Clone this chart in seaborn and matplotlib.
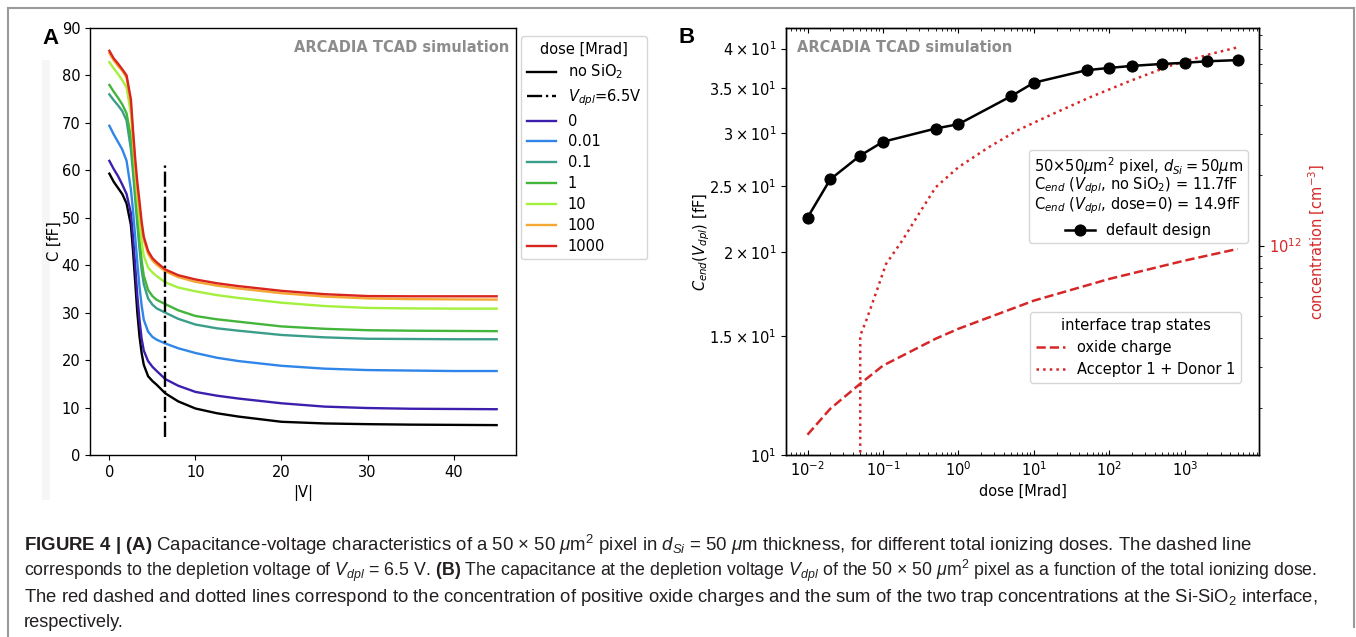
import numpy as np
import pandas as pd
import matplotlib
matplotlib.use("Agg")
import matplotlib.pyplot as plt
import seaborn as sns
from matplotlib.lines import Line2D
from matplotlib.patches import Rectangle
from matplotlib.ticker import FixedLocator, FixedFormatter, NullLocator, NullFormatter

# ---------------- data: panel A (C-V curves) ----------------
voltage = [0, 0.5, 1, 1.5, 2, 2.5, 2.75, 3, 3.25, 3.5, 3.75, 4, 4.5, 5, 5.5,
           6.5, 8, 10, 12.5, 15, 20, 25, 30, 35, 40, 45]
c_no_sio2 = [59.3, 57.6, 56.3, 55.0, 53.0, 48.5, 43.0, 36.5, 30.0, 25.0, 21.5, 19.0, 16.6, 15.6, 14.8,
             13.0, 11.3, 9.8, 8.8, 8.1, 7.0, 6.65, 6.5, 6.4, 6.35, 6.3]
c_dose_0 = [62.0, 60.3, 58.8, 57.0, 55.0, 51.0, 46.0, 40.0, 33.5, 28.5, 24.5, 22.0, 19.8, 18.6, 17.7,
            16.0, 14.6, 13.3, 12.5, 11.9, 10.9, 10.2, 9.9, 9.75, 9.7, 9.65]
c_dose_001 = [69.4, 67.6, 66.0, 64.4, 62.0, 56.0, 51.5, 46.0, 40.5, 35.5, 31.5, 28.5, 26.0, 24.9, 24.3,
              23.5, 22.5, 21.5, 20.5, 19.8, 18.8, 18.2, 17.9, 17.8, 17.7, 17.7]
c_dose_01 = [76.0, 74.8, 73.7, 72.5, 70.5, 64.5, 59.5, 54.0, 48.5, 43.5, 39.0, 36.0, 33.0, 31.7, 30.9,
             30.0, 28.7, 27.5, 26.7, 26.2, 25.3, 24.8, 24.5, 24.45, 24.4, 24.4]
c_dose_1 = [78.0, 76.6, 75.3, 73.9, 72.0, 67.0, 62.0, 56.0, 50.5, 45.5, 41.0, 37.8, 34.8, 33.5, 32.7,
            31.8, 30.5, 29.3, 28.6, 28.1, 27.1, 26.6, 26.3, 26.2, 26.15, 26.1]
c_dose_10 = [82.8, 81.5, 80.3, 79.0, 77.5, 72.0, 66.0, 60.0, 54.5, 49.5, 45.0, 42.0, 39.5, 38.5, 37.7,
             36.4, 35.3, 34.5, 33.7, 33.1, 32.1, 31.4, 31.0, 30.9, 30.85, 30.85]
c_dose_100 = [84.7, 83.2, 82.0, 81.0, 79.5, 74.0, 67.0, 61.0, 56.0, 52.0, 48.3, 45.3, 42.4, 41.0, 40.1,
              38.7, 37.5, 36.5, 35.7, 35.1, 34.1, 33.4, 33.0, 32.85, 32.8, 32.75]
c_dose_1000 = [85.2, 83.6, 82.5, 81.3, 80.0, 75.0, 68.5, 62.5, 57.5, 53.5, 49.2, 46.0, 43.0, 41.5, 40.6,
               39.1, 37.9, 37.0, 36.2, 35.6, 34.6, 33.9, 33.5, 33.45, 33.45, 33.45]
series_labels = ["no SiO$_2$", "0", "0.01", "0.1", "1", "10", "100", "1000"]
series_values = [c_no_sio2, c_dose_0, c_dose_001, c_dose_01, c_dose_1, c_dose_10, c_dose_100, c_dose_1000]
series_colors = ["#000000", "#3d1fae", "#2f86e8", "#3a9e8a", "#43b53a", "#a3f03e", "#f5a733", "#d8261e"]
vdpl_label = "$V_{dpl}$=6.5V"
vdpl_v = [6.5, 6.5]
vdpl_c = [3.8, 61.8]

# ---------------- data: panel B ----------------
dose_points = [0.01, 0.02, 0.05, 0.1, 0.5, 1, 5, 10, 50, 100, 200, 500, 1000, 2000, 5000]
c_end = [22.47, 25.6, 27.77, 29.1, 30.45, 30.9, 34.0, 35.6, 37.15, 37.44, 37.7, 37.95, 38.1, 38.3, 38.45]
oxide_dose = [0.01, 0.02, 0.05, 0.1, 0.2, 0.5, 1, 10, 100, 1000, 5000]
oxide_conc = [1.54e11, 1.99e11, 2.55e11, 3.05e11, 3.42e11, 3.98e11, 4.39e11, 5.8e11, 7.19e11, 8.62e11, 9.67e11]
trap_dose = [0.05, 0.05, 0.06, 0.08, 0.11, 0.18, 0.3, 0.5, 1, 2.5, 6, 18, 55, 190, 650, 2200, 5000]
trap_conc = [1e10, 4.11e11, 4.76e11, 6.2e11, 8.34e11, 1.05e12, 1.37e12, 1.78e12, 2.17e12, 2.64e12,
             3.12e12, 3.68e12, 4.33e12, 5.1e12, 5.93e12, 6.65e12, 7.1e12]
b_ytick_vals = [10, 15, 20, 25, 30, 35, 40]
b_ytick_labels = [r"$\mathdefault{10^{1}}$", r"$\mathdefault{1.5\times10^{1}}$", r"$\mathdefault{2\times10^{1}}$",
                  r"$\mathdefault{2.5\times10^{1}}$", r"$\mathdefault{3\times10^{1}}$",
                  r"$\mathdefault{3.5\times10^{1}}$", r"$\mathdefault{4\times10^{1}}$"]
info_title = ("50×50$\\mu$m$^2$ pixel, $d_{Si}=50\\mu$m\n"
              "C$_{end}$ ($V_{dpl}$, no SiO$_2$) = 11.7fF\n"
              "C$_{end}$ ($V_{dpl}$, dose=0) = 14.9fF")

caption_lines = [
    r"$\mathbf{FIGURE\ 4\ |\ (A)}$ Capacitance-voltage characteristics of a 50 × 50 $\mu$m$^2$ pixel in $d_{Si}$ = 50 $\mu$m thickness, for different total ionizing doses. The dashed line",
    r"corresponds to the depletion voltage of $V_{dpl}$ = 6.5 V. $\mathbf{(B)}$ The capacitance at the depletion voltage $V_{dpl}$ of the 50 × 50 $\mu$m$^2$ pixel as a function of the total ionizing dose.",
    r"The red dashed and dotted lines correspond to the concentration of positive oxide charges and the sum of the two trap concentrations at the Si-SiO$_2$ interface,",
    r"respectively.",
]

# ---------------- style ----------------
plt.rcParams["font.family"] = ["DejaVu Sans"]
plt.rcParams["font.size"] = 10.5
plt.rcParams["mathtext.rm"] = "Liberation Sans"
plt.rcParams["mathtext.it"] = "Liberation Sans:italic"
plt.rcParams["mathtext.bf"] = "Liberation Sans:bold"
plt.rcParams["axes.linewidth"] = 1.0

RED = "#d62728"
GREY = "#8c8c8c"
W, H = 1356, 637
fig = plt.figure(figsize=(W / 100, H / 100), dpi=100)


def fx(px):
    return px / W


def fy(py):
    return 1 - py / H


# frame and faint strip of the original page
fig.add_artist(Line2D([fx(8), fx(8)], [0, fy(8)], color="#9a9a9a", lw=1.5))
fig.add_artist(Line2D([fx(8), fx(1354)], [fy(8), fy(8)], color="#9a9a9a", lw=1.5))
fig.add_artist(Line2D([fx(1354), fx(1354)], [fy(627), fy(8)], color="#9a9a9a", lw=1.5))
fig.add_artist(Rectangle((fx(42), fy(500)), fx(8), fy(60) - fy(500), color="#f6f6f6", lw=0, zorder=-5))

axA = fig.add_axes([fx(90), fy(455), fx(516) - fx(90), fy(28) - fy(455)])
axB = fig.add_axes([fx(786), fy(455), fx(1259) - fx(786), fy(28) - fy(455)])

# ---------------- panel A ----------------
n = len(voltage)
dfA = pd.DataFrame({
    "V": np.tile(voltage, len(series_labels)),
    "C": np.concatenate([np.asarray(v, float) for v in series_values]),
    "series": np.repeat(series_labels, n),
})
sns.lineplot(data=dfA, x="V", y="C", hue="series", hue_order=series_labels,
             palette=dict(zip(series_labels, series_colors)), estimator=None, sort=False,
             lw=1.7, legend=False, ax=axA)
sns.lineplot(x=vdpl_v, y=vdpl_c, color="k", ls="-.", lw=1.7, estimator=None, sort=False,
             legend=False, ax=axA)
axA.set_xlim(-2.25, 47.25)
axA.set_ylim(0, 90)
axA.set_xticks([0, 10, 20, 30, 40])
axA.set_yticks(range(0, 91, 10))
axA.set_xlabel("|V|")
axA.set_ylabel("C [fF]", labelpad=0)
axA.text(0.985, 0.955, "ARCADIA TCAD simulation", transform=axA.transAxes, ha="right", va="center",
         fontsize=10.5, fontweight="bold", color=GREY)
linesA = axA.get_lines()
handlesA = [linesA[0], linesA[len(series_labels)]] + list(linesA[1:len(series_labels)])
labelsA = [series_labels[0], vdpl_label] + series_labels[1:]
axA.legend(handlesA, labelsA, title="dose [Mrad]", loc="upper left",
           bbox_to_anchor=(fx(521), fy(36)), bbox_transform=fig.transFigure, borderaxespad=0,
           fontsize=10.5, title_fontsize=10.5, labelspacing=0.4)

# ---------------- panel B ----------------
axB.set_xscale("log")
axB.set_yscale("log")
sns.lineplot(x=dose_points, y=c_end, color="k", marker="o", markersize=8, mec="k", lw=1.8,
             estimator=None, sort=False, legend=False, ax=axB)
axB2 = axB.twinx()
axB2.set_yscale("log")
sns.lineplot(x=oxide_dose, y=oxide_conc, color=RED, ls="--", lw=1.8, estimator=None, sort=False,
             legend=False, ax=axB2)
sns.lineplot(x=trap_dose, y=trap_conc, color=RED, ls=":", lw=1.8, estimator=None, sort=False,
             legend=False, ax=axB2)
axB.set_zorder(axB2.get_zorder() + 1)
axB.patch.set_visible(False)

lo, hi = np.log10(min(dose_points)), np.log10(max(dose_points))
pad = 0.05 * (hi - lo)
axB.set_xlim(10 ** (lo - pad), 10 ** (hi + pad))
axB.set_ylim(10, 42.9)
axB2.set_ylim(1.26e11, 8.6e12)
axB.yaxis.set_major_locator(FixedLocator(b_ytick_vals))
axB.yaxis.set_major_formatter(FixedFormatter(b_ytick_labels))
axB.yaxis.set_minor_locator(NullLocator())
axB.yaxis.set_minor_formatter(NullFormatter())
axB.tick_params(axis="x", which="both", direction="in", top=True, bottom=True)
axB2.tick_params(axis="y", which="both", labelcolor=RED)
axB.set_xlabel("dose [Mrad]")
axB.set_ylabel("$C_{end}(V_{dpl})$ [fF]", labelpad=-2)
axB2.set_ylabel("concentration [cm$^{-3}$]", color=RED)
axB.text(0.023, 0.955, "ARCADIA TCAD simulation", transform=axB.transAxes, ha="left", va="center",
         fontsize=10.5, fontweight="bold", color=GREY)

black_line = axB.get_lines()[0]
oxide_line, trap_line = axB2.get_lines()[:2]
legB1 = axB.legend([black_line], ["default design"], title=info_title, loc="upper right",
                   bbox_to_anchor=(fx(1248), fy(150)), bbox_transform=fig.transFigure,
                   borderaxespad=0, fontsize=10.5, title_fontsize=10.5, borderpad=0.35)
legB1.get_title().set_linespacing(0.92)
axB.add_artist(legB1)
axB.legend([oxide_line, trap_line], ["oxide charge", "Acceptor 1 + Donor 1"],
           title="interface trap states", loc="upper right",
           bbox_to_anchor=(fx(1241), fy(312)), bbox_transform=fig.transFigure,
           borderaxespad=0, fontsize=10.5, title_fontsize=10.5)

# ---------------- panel letters and caption ----------------
fig.text(fx(42), fy(44), "A", fontsize=16, fontweight="bold", family="Liberation Sans", va="baseline")
fig.text(fx(679), fy(43), "B", fontsize=16, fontweight="bold", family="Liberation Sans", va="baseline")

cap_baselines = [551, 576.5, 601.5, 627]
cap_right = [1255, 1319, 1320, None]
cap_texts = [fig.text(fx(24), fy(b), s, fontsize=12, family="Liberation Sans", math_fontfamily="custom",
                      va="baseline", ha="left", color="#231f20")
             for s, b in zip(caption_lines, cap_baselines)]
renderer = fig.canvas.get_renderer()
for _ in range(2):
    sizes = []
    for t, r in zip(cap_texts, cap_right):
        if r is None:
            continue
        wpx = t.get_window_extent(renderer).width
        fs = t.get_fontsize() * (r - 24) / wpx
        t.set_fontsize(fs)
        sizes.append(fs)
    cap_texts[3].set_fontsize(float(np.mean(sizes)))

fig.savefig("out.png", dpi=100)
